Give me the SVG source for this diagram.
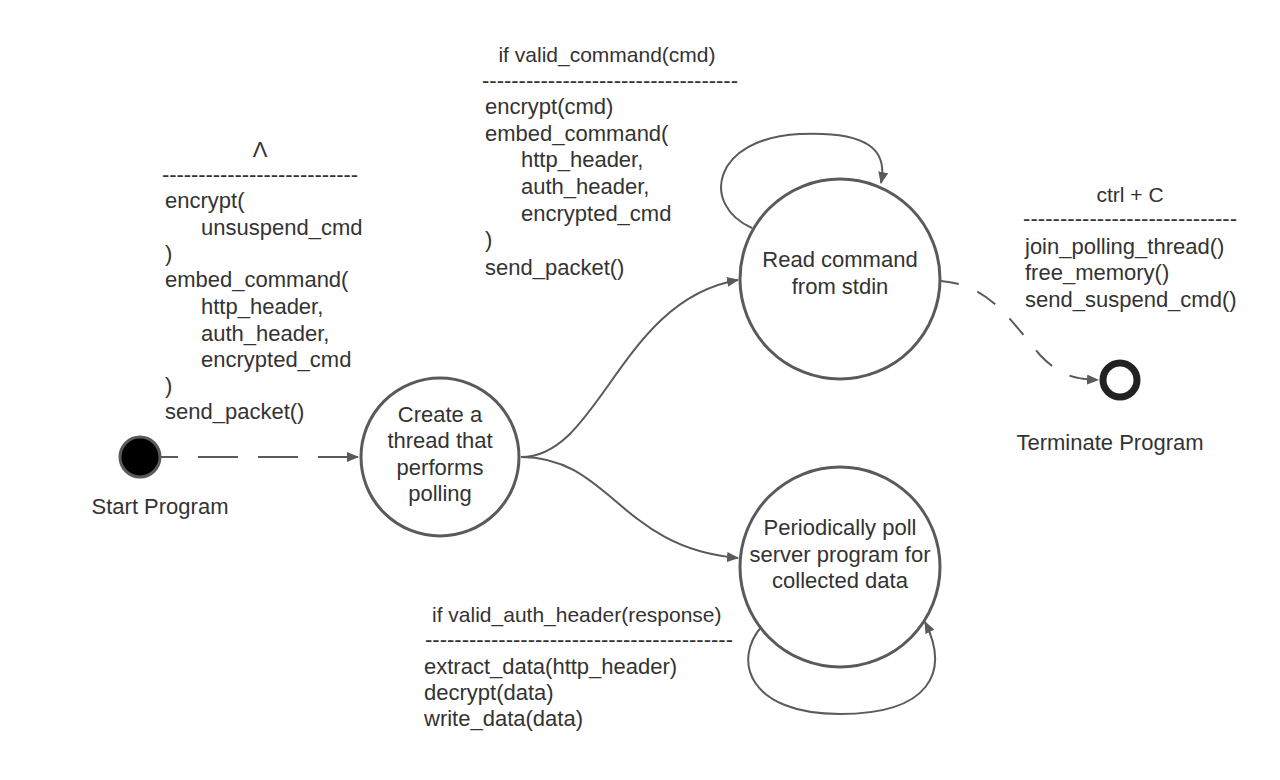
<svg xmlns="http://www.w3.org/2000/svg" width="1280" height="780" viewBox="0 0 1280 780">
  <defs>
    <marker id="arrow" viewBox="0 0 12 10" refX="11" refY="5" markerWidth="12" markerHeight="10" markerUnits="userSpaceOnUse" orient="auto">
      <path d="M0,0 L12,5 L0,10 Z" fill="#5a5a5a"/>
    </marker>
    <style>
      text { font-family: "Liberation Sans", Arial, sans-serif; font-size: 22px; fill: #333333; }
      .mid { text-anchor: middle; }
      .guard { font-size: 21px; }
      .state { fill: #ffffff; stroke: #5a5a5a; stroke-width: 3; }
      .edge { fill: none; stroke: #5a5a5a; stroke-width: 2; }
      .dash { stroke-dasharray: 40 20; stroke-dashoffset: 22; }
      .dash2 { stroke-dasharray: 22 20; stroke-dashoffset: 4; }
    </style>
  </defs>

  <rect width="1280" height="780" fill="#ffffff"/>

  <!-- transitions -->
  <g id="connectors">
    <path class="edge dash" d="M160,457 L358,457" marker-end="url(#arrow)"/>
    <path class="edge" d="M521,457 C600,457 620,300 738,280" marker-end="url(#arrow)"/>
    <path class="edge" d="M521,457 C610,457 620,548 738,558" marker-end="url(#arrow)"/>
    <path class="edge" d="M752,228 C700,205 712,138 800,134 C868,131 888,150 881,183" marker-end="url(#arrow)"/>
    <path class="edge dash2" d="M941,281 C990,285 1010,320 1040,355 C1060,376 1075,379 1098,380" marker-end="url(#arrow)"/>
    <path class="edge" d="M762,626 C732,660 748,714 840,714 C930,714 950,672 925,622" marker-end="url(#arrow)"/>
  </g>

  <!-- initial state -->
  <g id="start">
    <circle cx="140" cy="457" r="20" fill="#000000" stroke="#5a5a5a" stroke-width="3"/>
    <text class="mid" x="160" y="514">Start Program</text>
  </g>

  <!-- polling thread creation -->
  <g id="create-thread">
    <circle class="state" cx="440" cy="457" r="79"/>
    <text class="mid" x="440" y="422">Create a</text>
    <text class="mid" x="440" y="448">thread that</text>
    <text class="mid" x="440" y="475">performs</text>
    <text class="mid" x="440" y="501">polling</text>
  </g>

  <!-- command reading -->
  <g id="read-command">
    <circle class="state" cx="840" cy="279" r="100"/>
    <text class="mid" x="840" y="267">Read command</text>
    <text class="mid" x="840" y="294">from stdin</text>
  </g>

  <!-- polling loop -->
  <g id="poll-server">
    <circle class="state" cx="840" cy="567" r="100"/>
    <text class="mid" x="840" y="535">Periodically poll</text>
    <text class="mid" x="840" y="562">server program for</text>
    <text class="mid" x="840" y="588">collected data</text>
  </g>

  <!-- final state -->
  <g id="terminate">
    <circle cx="1120" cy="380" r="17" fill="none" stroke="#222222" stroke-width="7"/>
    <text class="mid" x="1110" y="450">Terminate Program</text>
  </g>

  <!-- transition labels -->
  <g id="label-start">
    <text class="mid" x="260" y="157">Λ</text>
    <text x="162" y="182" textLength="196" lengthAdjust="spacing">---------------------------</text>
    <text x="165" y="208">encrypt(</text>
    <text x="201" y="235">unsuspend_cmd</text>
    <text x="165" y="261">)</text>
    <text x="165" y="287">embed_command(</text>
    <text x="201" y="314">http_header,</text>
    <text x="201" y="341">auth_header,</text>
    <text x="201" y="367">encrypted_cmd</text>
    <text x="165" y="393">)</text>
    <text x="165" y="419">send_packet()</text>
  </g>

  <g id="label-read">
    <text class="mid guard" x="607" y="62">if valid_command(cmd)</text>
    <text x="482" y="88" textLength="256" lengthAdjust="spacing">-----------------------------------</text>
    <text x="485" y="114">encrypt(cmd)</text>
    <text x="485" y="141">embed_command(</text>
    <text x="521" y="167">http_header,</text>
    <text x="521" y="194">auth_header,</text>
    <text x="521" y="221">encrypted_cmd</text>
    <text x="485" y="247">)</text>
    <text x="485" y="275">send_packet()</text>
  </g>

  <g id="label-terminate">
    <text class="mid guard" x="1130" y="202">ctrl + C</text>
    <text x="1023" y="226" textLength="214" lengthAdjust="spacing">-----------------------------</text>
    <text x="1025" y="254">join_polling_thread()</text>
    <text x="1025" y="280">free_memory()</text>
    <text x="1025" y="307">send_suspend_cmd()</text>
  </g>

  <g id="label-poll">
    <text class="guard" x="432" y="622">if valid_auth_header(response)</text>
    <text x="425" y="647" textLength="308" lengthAdjust="spacing">------------------------------------------</text>
    <text x="424" y="674">extract_data(http_header)</text>
    <text x="424" y="700">decrypt(data)</text>
    <text x="424" y="726">write_data(data)</text>
  </g>
</svg>
